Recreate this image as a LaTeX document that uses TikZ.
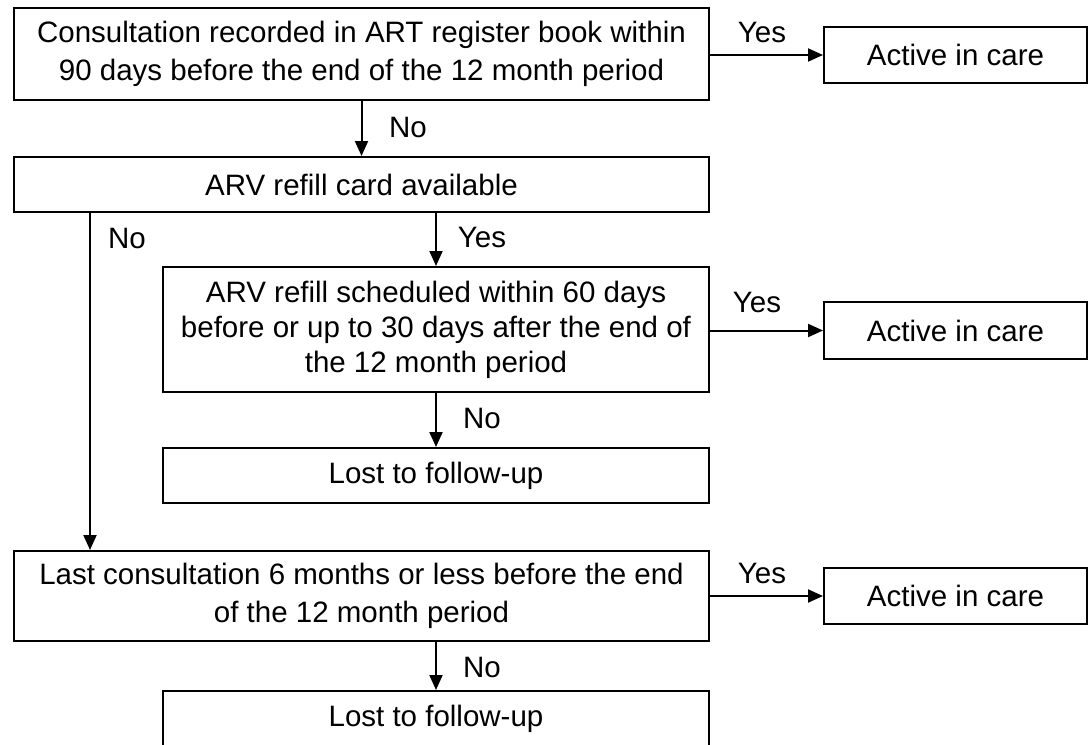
\documentclass[tikz,border=0pt]{standalone}
\usepackage{fontspec}
\setmainfont{Liberation Sans}
\usetikzlibrary{arrows.meta}
\begin{document}
\begin{tikzpicture}[x=1pt,y=-1pt,
  box/.style={draw,line width=2pt,inner sep=0pt,align=center,font=\fontsize{29.5}{38}\selectfont},
  conn/.style={line width=2pt,-{Triangle[length=15pt,width=13pt]}},
  lbl/.style={font=\fontsize{29.5}{32}\selectfont,inner sep=0pt}]
\useasboundingbox (0,0) rectangle (1091,744);
\node[box,minimum width=695pt,minimum height=92pt] (q1) at (361.5,54) {Consultation recorded in ART register book within\\90 days before the end of the 12 month period};
\node[box,minimum width=263pt,minimum height=56pt] (a1) at (955.5,55) {Active in care};
\node[box,minimum width=695pt,minimum height=55pt] (q2) at (361.5,184.5) {ARV refill card available};
\node[box,minimum width=546pt,minimum height=125pt,font=\fontsize{29.5}{35}\selectfont] (q3) at (436,329.5) {ARV refill scheduled within 60 days\\before or up to 30 days after the end of\\the 12 month period};
\node[box,minimum width=263pt,minimum height=57pt] (a2) at (955.5,330.5) {Active in care};
\node[box,minimum width=546pt,minimum height=55pt] (l1) at (436,475.5) {Lost to follow-up};
\node[box,minimum width=695pt,minimum height=90pt] (q4) at (361.5,596) {Last consultation 6 months or less before the end\\of the 12 month period};
\node[box,minimum width=263pt,minimum height=56pt] (a3) at (955.5,596) {Active in care};
\node[box,minimum width=546pt,minimum height=55pt] (l2) at (436,718.5) {Lost to follow-up};
\coordinate (nx) at (90,0);
\draw[conn] (q1.east |- a1.west) -- (a1.west);
\draw[conn] (q1.south) -- (q2.north);
\draw[conn] (q2.south -| nx) -- (q4.north -| nx);
\draw[conn] (q2.south -| q3.north) -- (q3.north);
\draw[conn] (q3.east |- a2.west) -- (a2.west);
\draw[conn] (q3.south) -- (l1.north);
\draw[conn] (q4.east |- a3.west) -- (a3.west);
\draw[conn] (q4.south -| l2.north) -- (l2.north);
\node[lbl] (y1) at (762,32) {Yes};
\node[lbl] (n1) at (408,127) {No};
\node[lbl] (n2) at (127,238) {No};
\node[lbl] (y2) at (482,237) {Yes};
\node[lbl] (y3) at (757,302) {Yes};
\node[lbl] (n3) at (482,418) {No};
\node[lbl] (y4) at (762,573) {Yes};
\node[lbl] (n4) at (482,667) {No};
\end{tikzpicture}
\end{document}
